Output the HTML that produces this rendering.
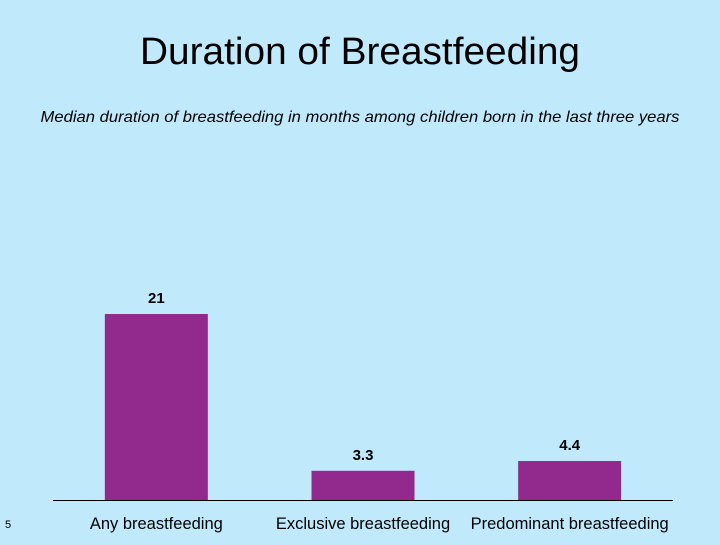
<!DOCTYPE html>
<html><head><meta charset="utf-8"><style>
body{margin:0;width:720px;height:540px;background:#c0eafc;font-family:"Liberation Sans","DejaVu Sans",sans-serif;overflow:hidden}
</style></head><body>
<svg width="720" height="540">
<text x="360" y="64" text-anchor="middle" font-size="38" textLength="440" lengthAdjust="spacingAndGlyphs" fill="#000">Duration of Breastfeeding</text>
<text x="360" y="122" text-anchor="middle" font-size="16" font-style="italic" textLength="639" lengthAdjust="spacingAndGlyphs" fill="#000">Median duration of breastfeeding in months among children born in the last three years</text>
<line x1="53" y1="500.5" x2="673" y2="500.5" stroke="#000" stroke-width="1"/>
<g id="bars"></g>
<text x="8" y="528" text-anchor="middle" font-size="11">5</text>
</svg>
<script>
const categories=["Any breastfeeding","Exclusive breastfeeding","Predominant breastfeeding"];
const values=[21,3.3,4.4];
const labels=["21","3.3","4.4"];
const base=500,scale=186/21,x0=53,slot=(673-53)/3,bw=103;
const y=v=>base-v*scale;
const g=document.getElementById('bars');
const ns="http://www.w3.org/2000/svg";
categories.forEach((c,i)=>{
  const cx=x0+slot*(i+0.5);
  const r=document.createElementNS(ns,'rect');
  r.setAttribute('x',cx-bw/2);r.setAttribute('y',y(values[i]));
  r.setAttribute('width',bw);r.setAttribute('height',base-y(values[i]));
  r.setAttribute('fill','#92298c');
  
  
  g.appendChild(r);
  const t=document.createElementNS(ns,'text');
  t.setAttribute('x',cx);t.setAttribute('y',y(values[i])-11);
  t.setAttribute('text-anchor','middle');t.setAttribute('font-size','15');t.setAttribute('font-weight','bold');
  t.textContent=labels[i];
  
  
  g.appendChild(t);
  const l=document.createElementNS(ns,'text');
  l.setAttribute('x',cx);l.setAttribute('y',529);
  l.setAttribute('text-anchor','middle');l.setAttribute('font-size','16.5');
  l.textContent=c;
  
  
  g.appendChild(l);
});
</script>
</body></html>
